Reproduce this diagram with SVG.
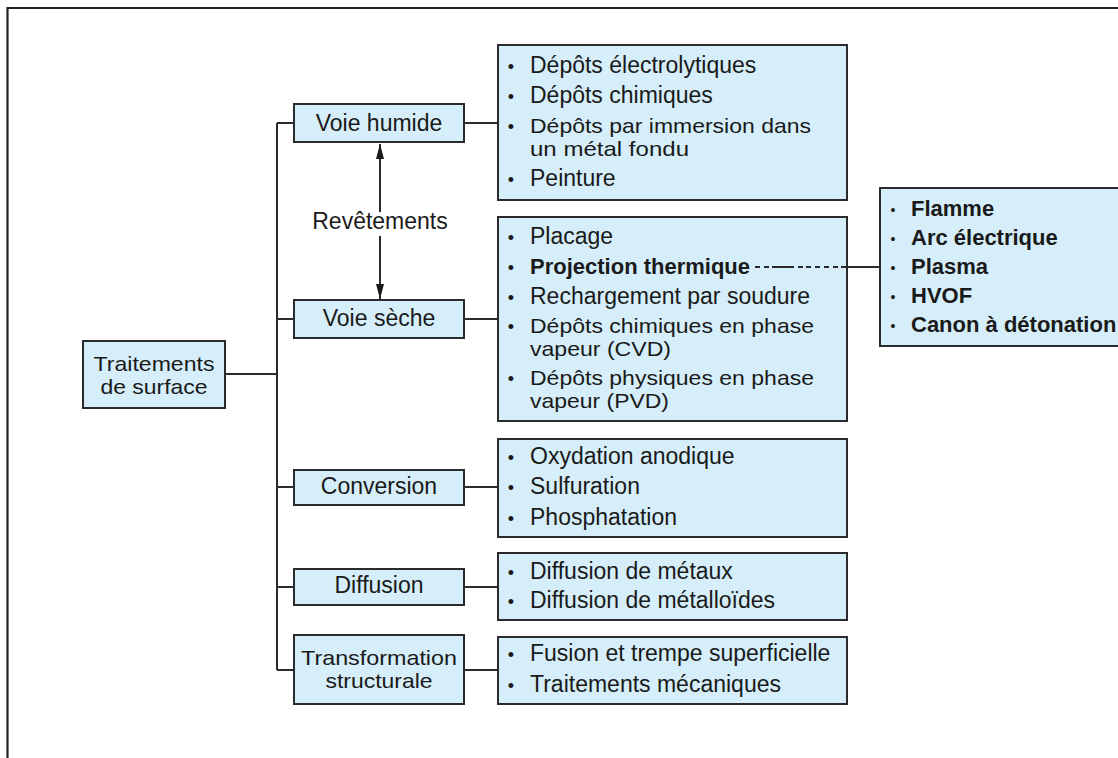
<svg xmlns="http://www.w3.org/2000/svg" width="1118" height="758" viewBox="0 0 1118 758">
<style>
.box{fill:#d5eef9;stroke:#2b2b2b;stroke-width:2}
.ln{stroke:#2b2b2b;stroke-width:2;fill:none}
.t{font-family:'Liberation Sans',Arial,sans-serif;font-size:23px;fill:#1a1a1a}
.w{font-size:21px}
.c{text-anchor:middle}
.b{font-weight:bold;font-size:22px}
.bu{font-family:'Liberation Sans',Arial,sans-serif;font-size:18px;fill:#1a1a1a;text-anchor:middle}
.bs{font-size:14px}
</style>
<defs>
<marker id="arr" markerWidth="15" markerHeight="8" refX="15" refY="4" orient="auto" markerUnits="userSpaceOnUse" viewBox="0 0 15 8">
<path d="M0,0 L15,4 L0,8 z" fill="#1a1a1a"/>
</marker>
</defs>
<rect x="0" y="0" width="1118" height="758" fill="#ffffff"/>
<g id="frame">
<path class="ln" d="M7.5,758 L7.5,8 L1118,8" style="stroke:#222;stroke-width:2.2"/>
</g>
<g id="connectors">
<path class="ln" d="M225,374 L277,374"/>
<path class="ln" d="M277,123 L277,670"/>
<path class="ln" d="M277,123 L294,123 M277,319 L294,319 M277,487 L294,487 M277,587 L294,587 M277,670 L294,670"/>
<path class="ln" d="M464,123 L498,123 M464,319 L498,319 M464,487 L498,487 M464,587 L498,587 M464,670 L498,670"/>
<path class="ln" d="M380,212 L380,144" marker-end="url(#arr)"/>
<path class="ln" d="M380,236 L380,299" marker-end="url(#arr)"/>
<path class="ln" d="M847,267 L880,267"/>
</g>
<g id="n-traitements">
<rect class="box" x="83" y="341" width="142" height="67"/>
<text class="t w c" x="154" y="370.5" textLength="121" lengthAdjust="spacingAndGlyphs">Traitements</text>
<text class="t w c" x="154" y="394" textLength="107" lengthAdjust="spacingAndGlyphs">de surface</text>
</g>
<g id="n-revetements">
<text class="t c" x="380" y="229">Revêtements</text>
</g>
<g id="n-voie-humide">
<rect class="box" x="294" y="104" width="170" height="38"/>
<text class="t c" x="379" y="131">Voie humide</text>
</g>
<g id="n-voie-seche">
<rect class="box" x="294" y="300" width="170" height="38"/>
<text class="t c" x="379" y="326">Voie sèche</text>
</g>
<g id="n-conversion">
<rect class="box" x="294" y="470" width="170" height="35"/>
<text class="t c" x="379" y="494">Conversion</text>
</g>
<g id="n-diffusion">
<rect class="box" x="294" y="569" width="170" height="36"/>
<text class="t c" x="379" y="593">Diffusion</text>
</g>
<g id="n-transformation">
<rect class="box" x="294" y="635" width="170" height="69"/>
<text class="t w c" x="379" y="664.5" textLength="156" lengthAdjust="spacingAndGlyphs">Transformation</text>
<text class="t w c" x="379" y="688" textLength="107" lengthAdjust="spacingAndGlyphs">structurale</text>
</g>
<g id="n-humide-items">
<rect class="box" x="498" y="45" width="349" height="155"/>
<text class="bu" x="511" y="73.3">•</text><text class="t" x="530" y="73">Dépôts électrolytiques</text>
<text class="bu" x="511" y="103.3">•</text><text class="t" x="530" y="103">Dépôts chimiques</text>
<text class="bu" x="511" y="132.8">•</text><text class="t w" x="530" y="132.5" textLength="281" lengthAdjust="spacingAndGlyphs">Dépôts par immersion dans</text>
<text class="t w" x="530" y="156" textLength="159" lengthAdjust="spacingAndGlyphs">un métal fondu</text>
<text class="bu" x="511" y="186.3">•</text><text class="t" x="530" y="186">Peinture</text>
</g>
<g id="n-seche-items">
<rect class="box" x="498" y="217" width="349" height="204"/>
<text class="bu" x="511" y="243.8">•</text><text class="t" x="530" y="243.5">Placage</text>
<text class="bu" x="511" y="274.3">•</text><text class="t b" x="530" y="274">Projection thermique</text>
<path class="ln" d="M755,267 L760,267 M764,267 L769,267 M772,267 L794,267 M798,267 L803,267 M806,267 L811,267 M815,267 L820,267 M824,267 L829,267 M833,267 L838,267 M841,267 L846,267"/>
<text class="bu" x="511" y="303.8">•</text><text class="t" x="530" y="303.5">Rechargement par soudure</text>
<text class="bu" x="511" y="332.8">•</text><text class="t w" x="530" y="332.5" textLength="284" lengthAdjust="spacingAndGlyphs">Dépôts chimiques en phase</text>
<text class="t w" x="530" y="356" textLength="141" lengthAdjust="spacingAndGlyphs">vapeur (CVD)</text>
<text class="bu" x="511" y="384.8">•</text><text class="t w" x="530" y="384.5" textLength="284" lengthAdjust="spacingAndGlyphs">Dépôts physiques en phase</text>
<text class="t w" x="530" y="408" textLength="139" lengthAdjust="spacingAndGlyphs">vapeur (PVD)</text>
</g>
<g id="n-projection-items">
<rect class="box" x="880" y="188" width="250" height="158"/>
<text class="bu bs" x="893" y="214.8">•</text><text class="t b" x="911" y="216">Flamme</text>
<text class="bu bs" x="893" y="243.8">•</text><text class="t b" x="911" y="245">Arc électrique</text>
<text class="bu bs" x="893" y="272.8">•</text><text class="t b" x="911" y="274">Plasma</text>
<text class="bu bs" x="893" y="301.8">•</text><text class="t b" x="911" y="303">HVOF</text>
<text class="bu bs" x="893" y="330.8">•</text><text class="t b" x="911" y="332">Canon à détonation</text>
</g>
<g id="n-conversion-items">
<rect class="box" x="498" y="439" width="349" height="98"/>
<text class="bu" x="511" y="464.3">•</text><text class="t" x="530" y="464">Oxydation anodique</text>
<text class="bu" x="511" y="493.8">•</text><text class="t" x="530" y="493.5">Sulfuration</text>
<text class="bu" x="511" y="524.8">•</text><text class="t" x="530" y="524.5">Phosphatation</text>
</g>
<g id="n-diffusion-items">
<rect class="box" x="498" y="553" width="349" height="67"/>
<text class="bu" x="511" y="579.3">•</text><text class="t" x="530" y="579">Diffusion de métaux</text>
<text class="bu" x="511" y="608.3">•</text><text class="t" x="530" y="608">Diffusion de métalloïdes</text>
</g>
<g id="n-transformation-items">
<rect class="box" x="498" y="637" width="349" height="67"/>
<text class="bu" x="511" y="661.3">•</text><text class="t" x="530" y="661">Fusion et trempe superficielle</text>
<text class="bu" x="511" y="692.3">•</text><text class="t" x="530" y="692">Traitements mécaniques</text>
</g>
</svg>
